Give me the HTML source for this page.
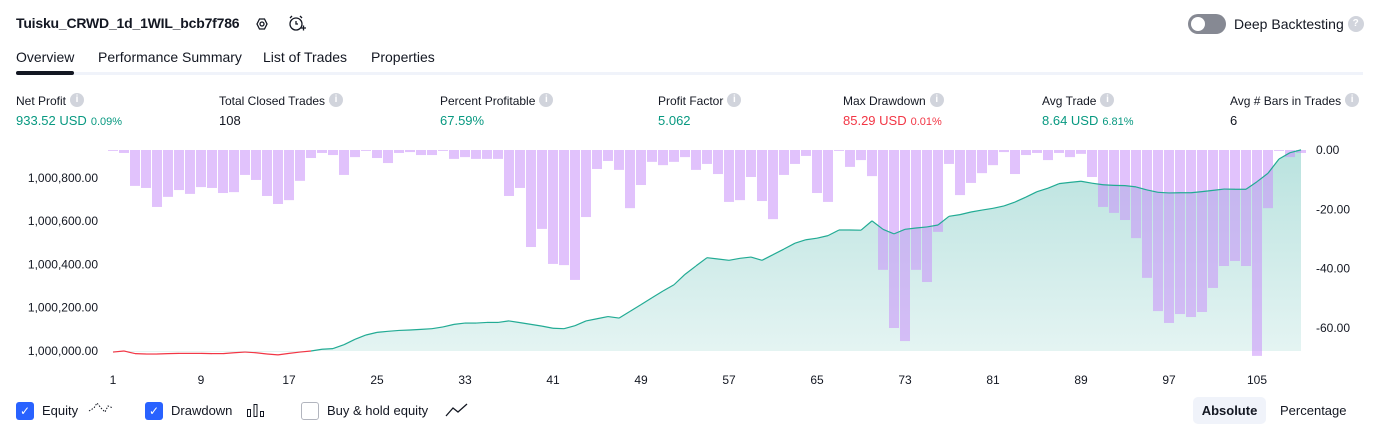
<!DOCTYPE html>
<html><head><meta charset="utf-8">
<style>
*{box-sizing:border-box;margin:0;padding:0}
body{width:1379px;height:435px;background:#fff;font-family:"Liberation Sans","DejaVu Sans",sans-serif;color:#131722;position:relative;overflow:hidden}
.abs{position:absolute;white-space:nowrap}
.title{left:16px;top:15px;font-size:14px;font-weight:bold;letter-spacing:-0.2px}
.tab{top:49px;font-size:14px}
.info{display:inline-block;width:14px;height:14px;border-radius:50%;background:#d1d4dc;color:#fff;font-size:10px;text-align:center;line-height:14px;font-weight:bold;vertical-align:middle;margin-left:4px;margin-top:-3px}
.lbl{top:94px;font-size:12px}
.val{top:113px;font-size:13px}
.pct{font-size:11px;margin-left:4px}
.g{color:#089981}.r{color:#f23645}
.cb{top:402px;width:18px;height:18px;border-radius:3px;background:#2962ff;color:#fff;font-size:12px;text-align:center;line-height:18px}
.leg{top:403px;font-size:13px}
</style></head><body>
<div class="abs title">Tuisku_CRWD_1d_1WIL_bcb7f786</div>
<svg class="abs" style="left:253px;top:15px" width="18" height="18"><polygon points="4,9 6.5,4 11.5,4 14,9 11.5,14 6.5,14" fill="none" stroke="#131722" stroke-width="1.3"/><circle cx="9" cy="9" r="2" fill="none" stroke="#131722" stroke-width="1.3"/></svg>
<svg class="abs" style="left:287px;top:14px" width="20" height="20"><circle cx="9" cy="10" r="6" fill="none" stroke="#131722" stroke-width="1.3"/><path d="M9 7v3h2M3 4l2-2M15 4l-2-2M14 14h5M16.5 11.5v5" fill="none" stroke="#131722" stroke-width="1.3"/></svg>
<div class="abs" style="left:1188px;top:14px;width:38px;height:20px;border-radius:10px;background:#868993"><div style="position:absolute;left:3px;top:3px;width:14px;height:14px;border-radius:50%;background:#fff"></div></div>
<div class="abs" style="left:1234px;top:16px;font-size:14px">Deep Backtesting<span class="info" style="width:16px;height:16px;line-height:16px">?</span></div>

<div class="abs tab" style="left:16px">Overview</div>
<div class="abs tab" style="left:98px">Performance Summary</div>
<div class="abs tab" style="left:263px">List of Trades</div>
<div class="abs tab" style="left:371px">Properties</div>
<div class="abs" style="left:16px;top:72px;width:1347px;height:3px;background:#f0f3fa"></div>
<div class="abs" style="left:16px;top:71px;width:58px;height:4px;border-radius:2px;background:#131722"></div>

<div class="abs lbl" style="left:16px">Net Profit<span class="info">i</span></div>
<div class="abs val g" style="left:16px">933.52 USD<span class="pct">0.09%</span></div>
<div class="abs lbl" style="left:219px">Total Closed Trades<span class="info">i</span></div>
<div class="abs val" style="left:219px">108</div>
<div class="abs lbl" style="left:440px">Percent Profitable<span class="info">i</span></div>
<div class="abs val g" style="left:440px">67.59%</div>
<div class="abs lbl" style="left:658px">Profit Factor<span class="info">i</span></div>
<div class="abs val g" style="left:658px">5.062</div>
<div class="abs lbl" style="left:843px">Max Drawdown<span class="info">i</span></div>
<div class="abs val r" style="left:843px">85.29 USD<span class="pct">0.01%</span></div>
<div class="abs lbl" style="left:1042px">Avg Trade<span class="info">i</span></div>
<div class="abs val g" style="left:1042px">8.64 USD<span class="pct">6.81%</span></div>
<div class="abs lbl" style="left:1230px">Avg # Bars in Trades<span class="info">i</span></div>
<div class="abs val" style="left:1230px">6</div>

<svg id="chart" class="abs" style="left:0;top:0" width="1379" height="395">
<defs><linearGradient id="gf" x1="0" y1="0" x2="0" y2="1"><stop offset="0" stop-color="#26a69a" stop-opacity="0.32"/><stop offset="1" stop-color="#26a69a" stop-opacity="0.12"/></linearGradient>
<clipPath id="cp"><rect x="0" y="0" width="1379" height="352"/></clipPath></defs>
</svg>

<div class="abs cb" style="left:16px">✓</div>
<div class="abs leg" style="left:42px">Equity</div>
<svg class="abs" style="left:88px;top:400px" width="26" height="18"><path d="M1 11 L6 8 L9 3 L13 8 L17 12 L20 6 L25 8" fill="none" stroke="#131722" stroke-dasharray="1.5 1.5"/></svg>
<div class="abs cb" style="left:145px">✓</div>
<div class="abs leg" style="left:171px">Drawdown</div>
<svg class="abs" style="left:246px;top:403px" width="20" height="15"><rect x="1.5" y="6.5" width="3" height="7" fill="none" stroke="#131722"/><rect x="8" y="1.5" width="3" height="12" fill="none" stroke="#131722"/><rect x="14.5" y="8.5" width="3" height="5" fill="none" stroke="#131722"/></svg>
<div class="abs" style="left:301px;top:402px;width:18px;height:18px;border-radius:3px;border:1px solid #b2b5be"></div>
<div class="abs leg" style="left:327px">Buy &amp; hold equity</div>
<svg class="abs" style="left:445px;top:402px" width="24" height="16"><path d="M1 14 L8 6 L13 10 L22 2" fill="none" stroke="#131722" stroke-width="1.3"/></svg>
<div class="abs" style="left:1193px;top:397px;width:73px;height:27px;border-radius:5px;background:#f0f3fa;font-size:13px;font-weight:bold;text-align:center;line-height:27px">Absolute</div>
<div class="abs" style="left:1280px;top:403px;font-size:13px">Percentage</div>

<script>
const drawdown=[0.3,1.0,12.1,12.8,19.2,15.8,13.5,14.8,12.5,12.8,14.5,14.2,8.4,10.1,15.5,18.2,16.9,10.4,2.7,1.0,1.7,8.4,2.4,0.3,2.7,4.4,1.0,0.7,1.7,1.7,0.3,3.0,2.4,3.0,3.0,3.0,15.5,12.8,32.7,26.6,38.4,38.8,43.8,22.6,6.4,3.7,6.7,19.6,11.8,4.0,5.1,4.0,2.4,6.7,4.7,8.1,17.5,16.9,9.1,17.2,23.3,8.4,4.7,2.0,14.5,17.5,0.3,5.7,3.4,8.8,40.4,60.0,64.4,40.4,44.5,27.6,4.7,15.2,11.1,7.8,5.1,0.7,8.1,1.7,1.0,3.4,1.0,2.4,1.3,9.1,19.2,21.2,23.6,29.7,43.1,54.3,58.3,55.3,56.3,54.6,46.5,39.1,37.4,39.1,69.4,19.6,0.3,2.4,1.0];
const equity=[-5,0,-12,-14,-14,-12,-11,-11,-11,-12,-12,-8,-5,-8,-14,-18,-11,-5,0,8,11,29,54,74,86,91,95,97,100,103,111,123,129,129,132,132,139,131,123,115,105,103,117,139,149,159,152,183,214,246,277,306,354,393,431,425,419,428,434,419,445,471,498,514,521,533,559,559,558,601,562,541,562,568,573,582,622,630,642,651,659,670,688,711,736,752,773,779,784,775,768,765,764,758,744,733,730,731,731,736,742,748,747,747,782,821,887,916,929];
const xTicks=[1,9,17,25,33,41,49,57,65,73,81,89,97,105];
const leftTicks=[0,200,400,600,800];
const rightTicks=[0,-20,-40,-60];
const NS="http://www.w3.org/2000/svg";
const svg=document.getElementById('chart');
const x=i=>113+i*11;
const yL=v=>351-v*43.3/200;
const yR=v=>150-v*178/60;
function mk(t,a){const e=document.createElementNS(NS,t);for(const k in a)e.setAttribute(k,a[k]);svg.appendChild(e);return e;}
let pts=equity.map((v,i)=>x(i)+','+yL(v)).join(' ');
const area=mk('polygon',{points:x(0)+','+yL(0)+' '+pts+' '+x(equity.length-1)+','+yL(0),fill:'url(#gf)','clip-path':'url(#cp)'});


drawdown.forEach((v,i)=>{
 const b=mk('rect',{x:x(i)-5,y:yR(0),width:10,height:yR(-v)-yR(0),fill:'#c88ffa','fill-opacity':0.55});
 
 
});
for(let i=1;i<equity.length;i++){
 const neg=equity[i]<=0&&equity[i-1]<=0;
 const l=mk('line',{x1:x(i-1),y1:yL(equity[i-1]),x2:x(i),y2:yL(equity[i]),stroke:neg?'#f23645':'#22ab94','stroke-width':1.2});
 
 
}
xTicks.forEach(t=>{
 const e=mk('text',{x:x(t-1),y:384,'text-anchor':'middle','font-size':12,fill:'#131722'});e.textContent=t;
 
 
});
leftTicks.forEach(t=>{
 const e=mk('text',{x:98,y:yL(t)+4,'text-anchor':'end','font-size':12,fill:'#131722'});
 e.textContent=(1000000+t).toLocaleString('en-US')+'.00';
 
 
});
rightTicks.forEach(t=>{
 const e=mk('text',{x:1316,y:yR(t)+4,'font-size':12,fill:'#131722'});e.textContent=t.toFixed(2);
 
 
});
</script>
</body></html>
